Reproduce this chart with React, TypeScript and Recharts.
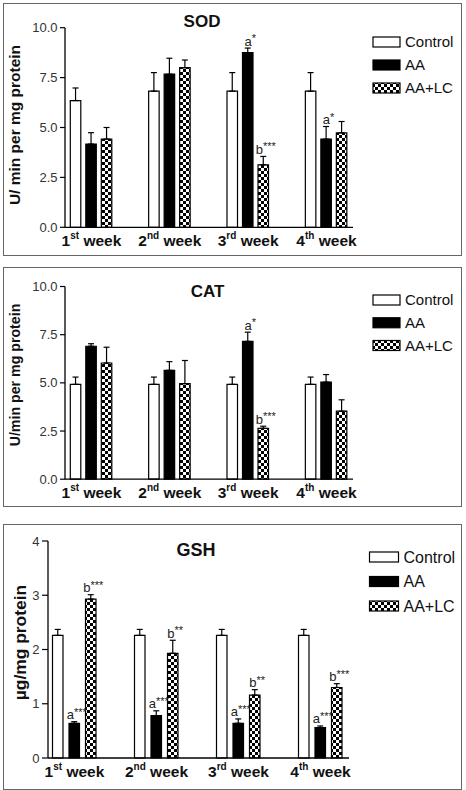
import React from "react";
import { BarChart, Bar, XAxis, YAxis, ErrorBar, LabelList } from "recharts";

const FONT = '"Liberation Sans", Arial, sans-serif';

const weekNum = ["1", "2", "3", "4"];
const weekSuffix = ["st", "nd", "rd", "th"];
const seriesNames = ["Control", "AA", "AA+LC"];

// SOD
const sodControl = [6.35, 6.82, 6.82, 6.82];
const sodControlErr = [0.63, 0.93, 0.93, 0.93];
const sodAA = [4.17, 7.67, 8.75, 4.42];
const sodAAErr = [0.57, 0.8, 0.23, 0.63];
const sodLC = [4.42, 8.0, 3.13, 4.73];
const sodLCErr = [0.58, 0.38, 0.42, 0.57];
const sodAAMark = ["", "", "a*", "a*"];
const sodLCMark = ["", "", "b***", ""];
const sodTicks = [0, 2.5, 5, 7.5, 10];

// CAT
const catControl = [4.92, 4.92, 4.92, 4.92];
const catControlErr = [0.38, 0.38, 0.38, 0.38];
const catAA = [6.9, 5.65, 7.15, 5.04];
const catAAErr = [0.13, 0.45, 0.48, 0.39];
const catLC = [6.03, 4.96, 2.64, 3.53];
const catLCErr = [0.82, 1.2, 0.11, 0.59];
const catAAMark = ["", "", "a*", ""];
const catLCMark = ["", "", "b***", ""];
const catTicks = [0, 2.5, 5, 7.5, 10];

// GSH
const gshControl = [2.26, 2.26, 2.26, 2.26];
const gshControlErr = [0.11, 0.11, 0.11, 0.11];
const gshAA = [0.64, 0.78, 0.64, 0.56];
const gshAAErr = [0.03, 0.09, 0.08, 0.03];
const gshLC = [2.93, 1.93, 1.16, 1.3];
const gshLCErr = [0.08, 0.24, 0.1, 0.07];
const gshAAMark = ["a***", "a***", "a***", "a***"];
const gshLCMark = ["b***", "b**", "b**", "b***"];
const gshTicks = [0, 1, 2, 3, 4];

function buildRows(c: number[], ce: number[], a: number[], ae: number[], l: number[], le: number[], am: string[], lm: string[]) {
  return weekNum.map((w, i) => ({
    week: w + weekSuffix[i] + " week",
    control: c[i],
    controlErr: [0, ce[i]],
    aa: a[i],
    aaErr: [0, ae[i]],
    lc: l[i],
    lcErr: [0, le[i]],
    aaMark: am[i],
    lcMark: lm[i],
  }));
}

// significance letter with superscript stars, placed above the error cap
const makeMark = (values: number[], errs: number[]) => (props: any) => {
  const { index, value } = props;
  if (!value) return null;
  const vb = props.viewBox && props.viewBox.width != null ? props.viewBox : props;
  const x = Number(vb.x);
  const w = Number(vb.width);
  const h = Math.abs(Number(vb.height));
  const top = Math.min(Number(vb.y), Number(vb.y) + Number(vb.height));
  const pxPerUnit = h / values[index];
  const capY = top - errs[index] * pxPerUnit;
  return (
    <text x={x + w / 2 + 2.5} y={capY - 2.5} textAnchor="middle" fontSize={13} fill="#222" fontFamily={FONT}>
      {value.slice(0, 1)}
      <tspan fontSize={11} dy={-3.5}>{value.slice(1)}</tspan>
    </text>
  );
};

function WeekTick(props: any) {
  const { x, y, payload } = props;
  let i = payload && payload.index != null ? payload.index : 0;
  if (payload && typeof payload.value === "string") {
    const k = weekNum.findIndex((w, j) => w + weekSuffix[j] + " week" === payload.value);
    if (k >= 0) i = k;
  }
  return (
    <text x={x} y={y + 19} textAnchor="middle" fontSize={15.5} fontWeight="bold" fill="#111" fontFamily={FONT}>
      {weekNum[i]}
      <tspan fontSize={10} dy={-7}>{weekSuffix[i]}</tspan>
      <tspan dy={7}> week</tspan>
    </text>
  );
}

function Panel(p: any) {
  const pat = "checker-" + p.id;
  const fills = ["#fff", "#000", `url(#${pat})`];
  return (
    <div style={{ position: "absolute", left: 0, top: p.top }}>
      <BarChart
        width={466}
        height={p.height}
        data={p.rows}
        margin={p.margin}
        barSize={10.5}
        barGap={p.barGap}
      >
        <defs>
          <pattern id={pat} width={6} height={6} patternUnits="userSpaceOnUse">
            <rect width={6} height={6} fill="#fff" />
            <rect width={3} height={3} fill="#000" />
            <rect x={3} y={3} width={3} height={3} fill="#000" />
          </pattern>
        </defs>
        <XAxis
          dataKey="week"
          height={30}
          padding={p.pad}
          tickLine={false}
          tickSize={0}
          tickMargin={0}
          axisLine={{ stroke: "#000", strokeWidth: 1.3 }}
          tick={<WeekTick />}
          interval={0}
        />
        <YAxis
          width={p.yWidth}
          domain={[p.ticks[0], p.ticks[p.ticks.length - 1]]}
          ticks={p.ticks}
          tickSize={p.tickSize}
          tickMargin={2.5}
          tickFormatter={p.fmt}
          axisLine={{ stroke: "#000", strokeWidth: 1.3 }}
          tickLine={{ stroke: "#000", strokeWidth: 1.2 }}
          tick={{ fontSize: 13, fill: "#333", fontFamily: FONT }}
        />
        <Bar dataKey="control" fill={fills[0]} stroke="#000" strokeWidth={1.2} isAnimationActive={false}>
          <ErrorBar dataKey="controlErr" width={3} stroke="#000" strokeWidth={1.2} direction="y" />
        </Bar>
        <Bar dataKey="aa" fill={fills[1]} stroke="#000" strokeWidth={1.2} isAnimationActive={false}>
          <ErrorBar dataKey="aaErr" width={3} stroke="#000" strokeWidth={1.2} direction="y" />
          <LabelList dataKey="aaMark" content={makeMark(p.aa, p.aaErr)} />
        </Bar>
        <Bar dataKey="lc" fill={fills[2]} stroke="#000" strokeWidth={1.2} isAnimationActive={false}>
          <ErrorBar dataKey="lcErr" width={3} stroke="#000" strokeWidth={1.2} direction="y" />
          <LabelList dataKey="lcMark" content={makeMark(p.lc, p.lcErr)} />
        </Bar>
        <text x={p.title.x} y={p.title.y} textAnchor="middle" fontSize={p.title.size} fontWeight="bold" fill="#111" fontFamily={FONT}>
          {p.title.text}
        </text>
        <text
          x={p.ylab.x}
          y={p.ylab.y}
          transform={`rotate(-90 ${p.ylab.x} ${p.ylab.y})`}
          textAnchor="middle"
          fontSize={p.ylab.size}
          fontWeight="bold"
          fill="#111"
          fontFamily={FONT}
        >
          {p.ylab.text}
        </text>
        <g>
          {seriesNames.map((n, i) => {
            const cy = p.legend.y + i * p.legend.step;
            return (
              <g key={n}>
                <rect
                  x={p.legend.x}
                  y={cy - p.legend.boxH / 2}
                  width={p.legend.boxW}
                  height={p.legend.boxH}
                  fill={fills[i]}
                  stroke="#000"
                  strokeWidth={1.2}
                />
                <text x={p.legend.x + p.legend.boxW + 5} y={cy + p.legend.size * 0.36} fontSize={p.legend.size} fill="#111" fontFamily={FONT}>
                  {n}
                </text>
              </g>
            );
          })}
        </g>
      </BarChart>
    </div>
  );
}

const frame = (top: number, height: number): React.CSSProperties => ({
  position: "absolute",
  left: 3,
  top,
  width: 459,
  height,
  border: "1.5px solid #666",
  boxSizing: "border-box",
});

export default function App() {
  const f1 = (v: number) => v.toFixed(1);
  const f0 = (v: number) => String(v);
  return (
    <div style={{ position: "relative", width: 466, height: 790, background: "#fff", overflow: "hidden" }}>
      <style>{"body{margin:0}"}</style>
      <div style={frame(3, 253)} />
      <div style={frame(267, 240)} />
      <div style={frame(524, 266)} />
      <Panel
        id="sod"
        top={0}
        height={260}
        rows={buildRows(sodControl, sodControlErr, sodAA, sodAAErr, sodLC, sodLCErr, sodAAMark, sodLCMark)}
        aa={sodAA}
        aaErr={sodAAErr}
        lc={sodLC}
        lcErr={sodLCErr}
        margin={{ top: 27.7, right: 113, bottom: 2.7, left: 5 }}
        pad={{ left: -12.7, right: -12.7 }}
        barGap={5}
        yWidth={60}
        tickSize={5}
        ticks={sodTicks}
        fmt={f1}
        title={{ text: "SOD", x: 202, y: 26.7, size: 17 }}
        ylab={{ text: "U/ min per mg protein", x: 20, y: 125, size: 15.5 }}
        legend={{ x: 373, y: 42, step: 23, size: 15, boxW: 27, boxH: 10 }}
      />
      <Panel
        id="cat"
        top={262}
        height={250}
        rows={buildRows(catControl, catControlErr, catAA, catAAErr, catLC, catLCErr, catAAMark, catLCMark)}
        aa={catAA}
        aaErr={catAAErr}
        lc={catLC}
        lcErr={catLCErr}
        margin={{ top: 24.5, right: 113, bottom: 2.8, left: 5 }}
        pad={{ left: -12.7, right: -12.7 }}
        barGap={5}
        yWidth={60}
        tickSize={5}
        ticks={catTicks}
        fmt={f1}
        title={{ text: "CAT", x: 207.5, y: 35.3, size: 17 }}
        ylab={{ text: "U/min per mg protein", x: 19.7, y: 113, size: 14.2 }}
        legend={{ x: 373, y: 38, step: 22.75, size: 15, boxW: 27, boxH: 10 }}
      />
      <Panel
        id="gsh"
        top={515}
        height={275}
        rows={buildRows(gshControl, gshControlErr, gshAA, gshAAErr, gshLC, gshLCErr, gshAAMark, gshLCMark)}
        aa={gshAA}
        aaErr={gshAAErr}
        lc={gshLC}
        lcErr={gshLCErr}
        margin={{ top: 26, right: 117, bottom: 2, left: 5 }}
        pad={{ left: -14.5, right: -12.5 }}
        barGap={6}
        yWidth={43}
        tickSize={6}
        ticks={gshTicks}
        fmt={f0}
        title={{ text: "GSH", x: 196, y: 40.7, size: 18 }}
        ylab={{ text: "µg/mg protein", x: 26.3, y: 127.5, size: 17.4 }}
        legend={{ x: 369.5, y: 42, step: 24.5, size: 16, boxW: 29, boxH: 10 }}
      />
    </div>
  );
}
